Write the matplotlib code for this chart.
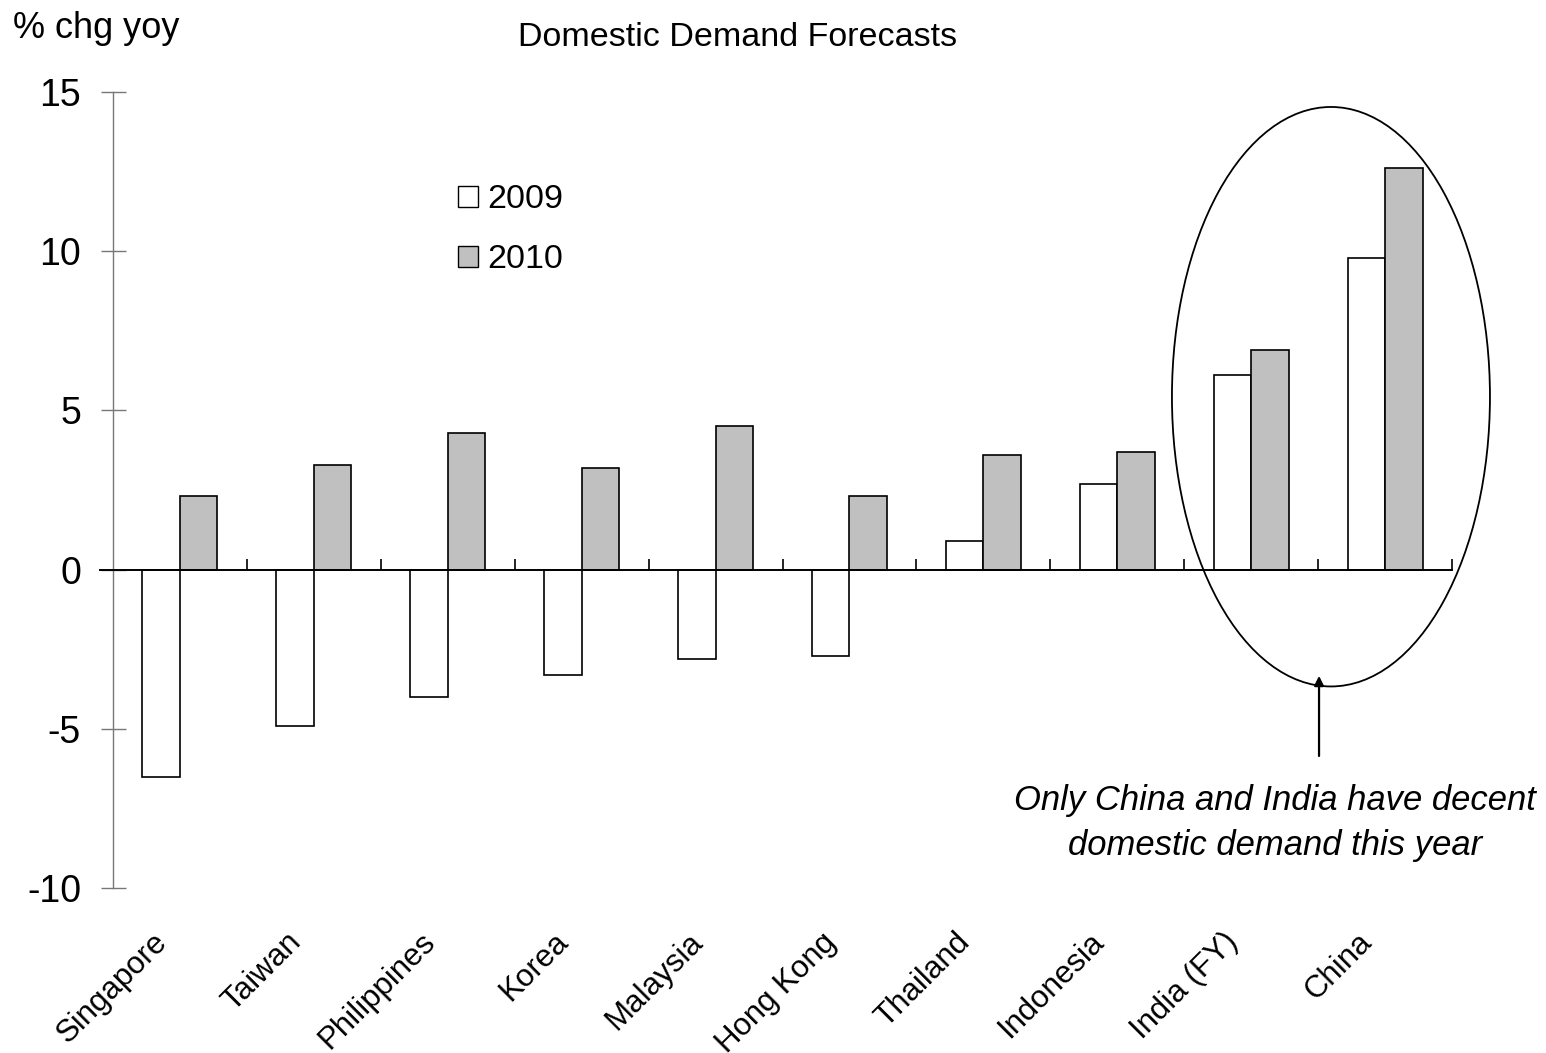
import matplotlib
matplotlib.use("Agg")
import matplotlib.pyplot as plt
import matplotlib.transforms as mtransforms
from matplotlib.patches import Ellipse, Patch
import numpy as np

plt.rcParams['font.family'] = ['Liberation Sans', 'DejaVu Sans']

# Données
pays = ["Singapore", "Taiwan", "Philippines", "Korea", "Malaysia",
        "Hong Kong", "Thailand", "Indonesia", "India (FY)", "China"]
dd_2009 = [-6.5, -4.9, -4.0, -3.3, -2.8, -2.7, 0.9, 2.7, 6.1, 9.8]
dd_2010 = [2.3, 3.3, 4.3, 3.2, 4.5, 2.3, 3.6, 3.7, 6.9, 12.6]
annees = ["2009", "2010"]
yticks = [-10, -5, 0, 5, 10, 15]

FS = 24.5
W = 1546
H = 1053

fig = plt.figure(figsize=(W / 100, H / 100), dpi=100)
ax = fig.add_axes([113 / W, 1 - 888 / H, (1452 - 113) / W, (888 - 92) / H])

x = np.arange(len(pays))
largeur = 0.28
ax.bar(x - largeur / 2, dd_2009, largeur, color="white", edgecolor="black", linewidth=1.2)
ax.bar(x + largeur / 2, dd_2010, largeur, color="#c0c0c0", edgecolor="black", linewidth=1.2)

ax.set_xlim(-0.5, len(pays) - 0.5)
ax.set_ylim(-10, 15)

# axes
ax.spines["top"].set_visible(False)
ax.spines["right"].set_visible(False)
ax.spines["left"].set_color("#777777")
ax.spines["left"].set_linewidth(1.0)
ax.spines["bottom"].set_position(("data", 0))
ax.spines["bottom"].set_bounds(-0.6, len(pays) - 0.5)
ax.spines["bottom"].set_linewidth(1.4)

ax.set_yticks(yticks)
ax.set_yticklabels([str(v) for v in yticks])
ax.tick_params(axis="y", direction="inout", length=18, width=1.0, color="#777777",
               labelsize=27, pad=14)
ax.set_xticks(x + 0.5)
ax.set_xticklabels([])
ax.tick_params(axis="x", direction="in", length=8, width=1.2, color="black")

# étiquettes des pays
trans = mtransforms.blended_transform_factory(ax.transData, ax.transAxes)
for xi, nom in zip(x, pays):
    ax.text(xi - 0.21, -0.049, nom, transform=trans, rotation=45,
            rotation_mode="anchor", ha="right", va="top", fontsize=22.5)

# légende
poignees = [Patch(facecolor="white", edgecolor="black", linewidth=1.0),
            Patch(facecolor="#c0c0c0", edgecolor="black", linewidth=1.0)]
ax.legend(poignees, annees, loc="upper left", bbox_to_anchor=(0.258, 0.884),
          frameon=False, fontsize=FS, handlelength=0.56, handleheight=0.56,
          handletextpad=0.3, labelspacing=0.85, borderpad=0, borderaxespad=0)

# ellipse et flèche
ax.add_patch(Ellipse((8.596, 5.43), 2.375, 18.2, fill=False, edgecolor="black",
                     linewidth=1.3, clip_on=False))
ax.annotate("", xy=(8.507, -3.25), xytext=(8.507, -5.94),
            arrowprops=dict(arrowstyle="-|>", color="black", lw=1.6, mutation_scale=14),
            annotation_clip=False)
ax.text(8.18, -7.95, "Only China and India have decent\ndomestic demand this year",
        ha="center", va="center", fontsize=24.9, style="italic", linespacing=1.45)

# titres
fig.text(738 / W, 1 - 37 / H, "Domestic Demand Forecasts", ha="center", va="center", fontsize=FS)
fig.text(13 / W, 1 - 28 / H, "% chg yoy", ha="left", va="center", fontsize=26)

plt.savefig("out.png", dpi=100)
